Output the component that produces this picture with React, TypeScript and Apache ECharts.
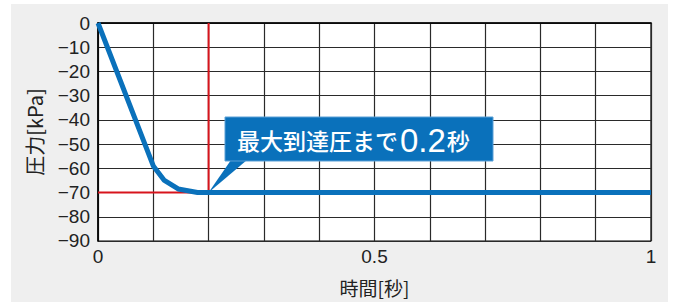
import React, { useEffect, useRef } from "react";
import * as echarts from "echarts";

const timeSec = [0, 0.1, 0.12, 0.145, 0.18, 0.2, 1];
const pressureKPa = [0, -59, -65, -68.5, -70, -70, -70];
const reachTime = 0.2;
const reachPressure = -70;
const xLabelsShown = [0, 0.5, 1];
const calloutPrefix = "最大到達圧まで";
const calloutValue = "0.2";
const calloutUnit = "秒";
const yAxisName = "圧力[kPa]";
const xAxisName = "時間[秒]";

const LATIN = "'Liberation Sans', Arial, sans-serif";
const CJK = "'Noto Sans CJK JP', 'Liberation Sans', sans-serif";
const BLUE = "#0a71bb";
const RED = "#d7141c";

export default function App() {
  const ref = useRef<HTMLDivElement>(null);
  useEffect(() => {
    const chart = echarts.init(ref.current!, null, { renderer: "svg" });
    const option: any = {
      animation: false,
      backgroundColor: "#ffffff",
      grid: {
        left: 98,
        right: 25,
        top: 23,
        bottom: 59,
        show: true,
        backgroundColor: "#ffffff",
        borderColor: "#000",
        borderWidth: 1.2,
      },
      xAxis: {
        type: "value",
        min: 0,
        max: 1,
        interval: 0.1,
        z: 5,
        name: xAxisName,
        nameLocation: "middle",
        nameGap: 37,
        nameTextStyle: { fontFamily: CJK, fontSize: 19, color: "#222" },
        axisLine: { show: true, lineStyle: { color: "#000", width: 1.5 } },
        axisTick: { show: false },
        splitLine: { show: true, lineStyle: { color: "#2a2a2a", width: 1.2 } },
        axisLabel: {
          fontFamily: LATIN,
          fontSize: 19,
          color: "#222",
          margin: 6,
          formatter: (v: number) => {
            const hit = xLabelsShown.find((t) => Math.abs(t - v) < 1e-6);
            return hit === undefined ? "" : String(hit);
          },
        },
      },
      yAxis: {
        type: "value",
        min: -90,
        max: 0,
        interval: 10,
        z: 5,
        name: yAxisName,
        nameLocation: "middle",
        nameGap: 54,
        nameRotate: 90,
        nameTextStyle: { fontFamily: CJK, fontSize: 20, color: "#222" },
        axisLine: { show: true, lineStyle: { color: "#000", width: 1.5 } },
        axisTick: { show: false },
        splitLine: { show: true, lineStyle: { color: "#2a2a2a", width: 1.2 } },
        axisLabel: {
          fontFamily: LATIN,
          fontSize: 19,
          color: "#222",
          margin: 8,
          formatter: (v: number) => (v < 0 ? "\u2212" + Math.abs(v) : String(v)),
        },
      },
      series: [
        {
          type: "line",
          data: [
            [0, reachPressure],
            [reachTime, reachPressure],
          ],
          symbol: "none",
          lineStyle: { color: RED, width: 2 },
          z: 6,
        },
        {
          type: "line",
          data: [
            [reachTime, 0],
            [reachTime, reachPressure],
          ],
          symbol: "none",
          lineStyle: { color: RED, width: 2 },
          z: 6,
        },
        {
          type: "line",
          data: timeSec.map((t, i) => [t, pressureKPa[i]]),
          symbol: "none",
          lineStyle: { color: BLUE, width: 5, join: "round" },
          z: 7,
        },
      ],
    };
    chart.setOption(option);
    const tip = chart.convertToPixel({ gridIndex: 0 }, [reachTime, reachPressure]) as number[];
    const boxX = 225;
    const boxY = 117;
    const boxW = 268;
    const boxH = 44;
    chart.setOption({
      graphic: [
        {
          type: "rect",
          shape: { x: 11, y: 4, width: 657, height: 300 },
          style: { fill: "#efefef" },
          z: -10,
          silent: true,
        },
        {
          type: "polygon",
          shape: {
            points: [
              [boxX + 6, boxY + boxH - 1],
              [boxX + 22, boxY + boxH - 1],
              [tip[0], tip[1]],
            ],
          },
          style: { fill: BLUE },
          z: 100,
        },
        {
          type: "rect",
          shape: { x: boxX, y: boxY, width: boxW, height: boxH },
          style: { fill: BLUE, stroke: "#5aa0d6", lineWidth: 1 },
          z: 100,
        },
        {
          type: "text",
          x: boxX + 12,
          y: boxY + boxH / 2 + 1,
          z: 101,
          style: {
            text: `{a|${calloutPrefix}}{b|${calloutValue}}{a|${calloutUnit}}`,
            verticalAlign: "middle",
            rich: {
              a: { fontFamily: CJK, fontSize: 23, fontWeight: 500, fill: "#fff", color: "#fff" },
              b: { fontFamily: LATIN, fontSize: 33, fill: "#fff", color: "#fff", padding: [0, 1, 0, 2] },
            },
          },
        },
      ],
    });
    return () => chart.dispose();
  }, []);
  return (
    <div
      ref={ref}
      style={{ position: "fixed", left: 0, top: 0, width: 676, height: 302 }}
    />
  );
}
